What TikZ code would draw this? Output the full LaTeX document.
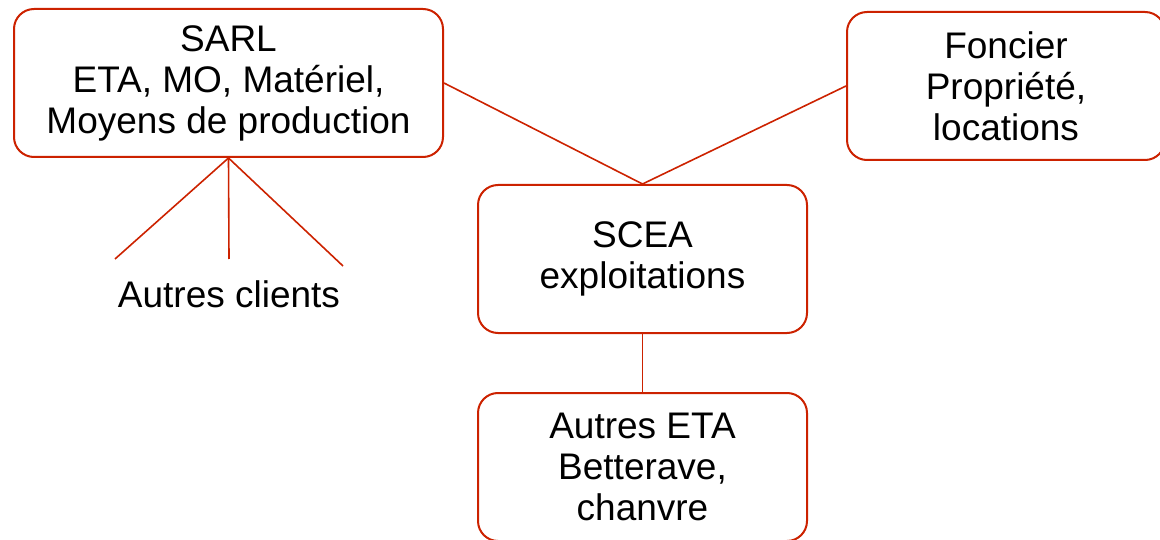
\documentclass[tikz,border=0pt]{standalone}
\usepackage{fontspec}
\setmainfont{Liberation Sans}
\usetikzlibrary{positioning}
\definecolor{boxred}{RGB}{204,34,0}

\begin{document}
\begin{tikzpicture}[x=1pt,y=-1pt,
  every node/.style={font=\fontsize{37}{41}\selectfont,align=center},
  entity/.style={draw=boxred,line width=2pt,rounded corners=20pt,fill=white,
    minimum width=329pt,minimum height=148pt,inner sep=0pt},
  link/.style={draw=boxred,line width=1.6pt}]
 \clip (0,0) rectangle (1160,540);
 % structures
 \node[entity,minimum width=429pt] (sarl) at (228.5,83)
   {SARL\\ETA, MO, Matériel,\\Moyens de production};
 \node[entity,minimum width=318pt] (foncier) at (1006,86)
   {Foncier\\Propriété,\\locations};
 \node[entity] (scea) at (642.5,259) {SCEA\\exploitations};
 \node[entity] (eta) at (642.5,467) {Autres ETA\\Betterave,\\chanvre};
 \node (clients) at (229,294) {Autres clients};
 % liens
 \coordinate (c1) at (115,259);
 \coordinate (c2) at (229,259);
 \coordinate (c3) at (343,266);
 \draw[link] (sarl.east) -- (scea.north) -- (foncier.west);
 \draw[link] (scea.south) -- (eta.north);
 \foreach \c in {c1,c2,c3}
  \draw[link] (sarl.south) -- (\c);
\end{tikzpicture}
\end{document}
